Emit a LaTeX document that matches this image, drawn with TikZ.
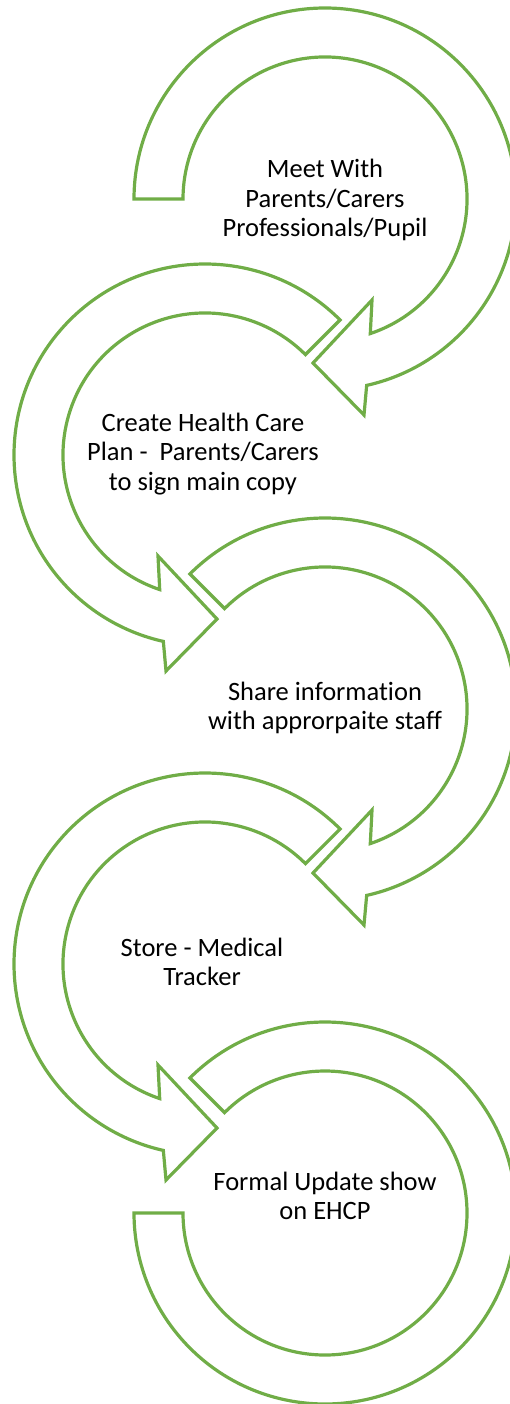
\documentclass[tikz,border=0pt]{standalone}
\usepackage{fontspec}
\setmainfont{Carlito}[Ligatures=NoCommon]
\definecolor{stepgreen}{RGB}{112, 173, 71}
\usepackage{tikz}
\usetikzlibrary{positioning}

\tikzset{
  cyclearrow/.style={draw=stepgreen, line width=3.2pt, line join=miter},
  steptext/.style={font=\fontsize{26.5}{29.5}\selectfont, align=center, inner sep=0pt}
}

\begin{document}
\begin{tikzpicture}[x=1pt, y=-1pt]
  \useasboundingbox (0,0) rectangle (510,1404);

  % Arrow 1: tail on the left, head at the bottom
  \begin{scope}[shift={(325,199)}]
    \draw[cyclearrow] (180:191) arc[start angle=180, end angle=437.4, radius=191]
      -- (39,216) -- (-12,164) -- (47,101) -- (431.4:142)
      arc[start angle=431.4, end angle=180, radius=142] -- cycle;
  \end{scope}

  % Arrow 2: mirrored
  \begin{scope}[shift={(205,455)}, xscale=-1]
    \draw[cyclearrow] (225:191) arc[start angle=225, end angle=437.4, radius=191]
      -- (39,216) -- (-12,164) -- (47,101) -- (431.4:142)
      arc[start angle=431.4, end angle=225, radius=142] -- cycle;
  \end{scope}

  % Arrow 3
  \begin{scope}[shift={(325,709)}]
    \draw[cyclearrow] (225:191) arc[start angle=225, end angle=437.4, radius=191]
      -- (39,216) -- (-12,164) -- (47,101) -- (431.4:142)
      arc[start angle=431.4, end angle=225, radius=142] -- cycle;
  \end{scope}

  % Arrow 4: mirrored
  \begin{scope}[shift={(205,964)}, xscale=-1]
    \draw[cyclearrow] (225:191) arc[start angle=225, end angle=437.4, radius=191]
      -- (39,216) -- (-12,164) -- (47,101) -- (431.4:142)
      arc[start angle=431.4, end angle=225, radius=142] -- cycle;
  \end{scope}

  % Arrow 5: flat end on the left
  \begin{scope}[shift={(325,1213)}]
    \draw[cyclearrow] (225:191) arc[start angle=225, end angle=540, radius=191]
      -- (540:142) arc[start angle=540, end angle=225, radius=142] -- cycle;
  \end{scope}

  % Step labels
  \node[steptext] (meet) at (325,200) {Meet With\\Parents/Carers\\Professionals/Pupil};
  \node[steptext] (plan) at (203,454) {Create Health Care\\Plan -~ Parents/Carers\\to sign main copy};
  \node[steptext] (share) at (325,708) {Share information\\with approrpaite staff};
  \node[steptext] (store) at (202,962) {Store - Medical\\Tracker};
  \node[steptext] (update) at (325,1196) {Formal Update show\\on EHCP};
\end{tikzpicture}
\end{document}
